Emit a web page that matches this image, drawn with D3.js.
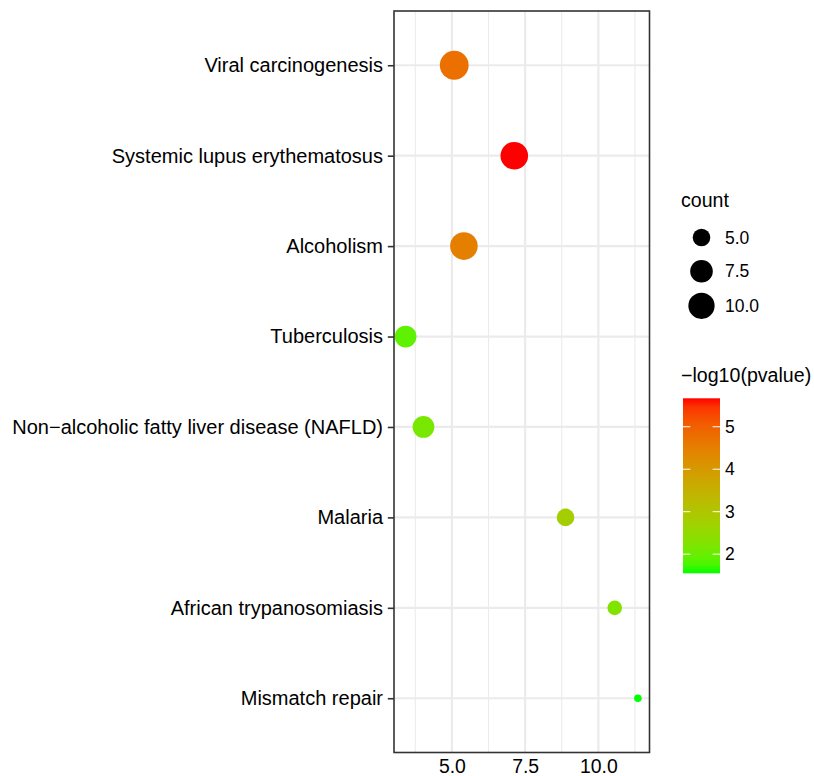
<!DOCTYPE html>
<html>
<head>
<meta charset="utf-8">
<script src="https://cdn.jsdelivr.net/npm/d3@7"></script>
<style>
  html, body { margin: 0; padding: 0; background: #fff; }
  svg { display: block; font-family: "Liberation Sans", Arial, Helvetica, sans-serif; }
</style>
</head>
<body>
<svg id="chart" width="814" height="776"></svg>
<script>
// ---- data ----
const categories = [
  "Viral carcinogenesis",
  "Systemic lupus erythematosus",
  "Alcoholism",
  "Tuberculosis",
  "Non\u2212alcoholic fatty liver disease (NAFLD)",
  "Malaria",
  "African trypanosomiasis",
  "Mismatch repair"
];
const xValues = [5.08, 7.13, 5.41, 3.42, 4.03, 8.88, 10.56, 11.35];
const counts = [12, 11, 11, 7, 7, 5, 4, 3];
const logP = [4.75, 5.67, 4.5, 1.9, 2.15, 2.8, 2.25, 1.55];
const xTicks = [5.0, 7.5, 10.0];
const xMinorTicks = [3.75, 6.25, 8.75, 11.25];
const sizeBreaks = [5.0, 7.5, 10.0];
const colorBreaks = [2, 3, 4, 5];

// ---- layout ----
const svg = d3.select("#chart");
const panel = { left: 394, right: 649.5, top: 11, bottom: 752.5 };
const sizeKeyY = [237.5, 271.3, 305.8];

const xMin = d3.min(xValues), xMax = d3.max(xValues);
const xPad = (xMax - xMin) * 0.05;
const x = d3.scaleLinear().domain([xMin - xPad, xMax + xPad]).range([panel.left, panel.right]);
const y = d3.scalePoint().domain(categories).range([panel.top, panel.bottom]).padding(0.6);

const cMin = d3.min(counts), cMax = d3.max(counts);
const rScale = d3.scaleSqrt().domain([0, cMax - cMin]).range([3.8, 14.4]).clamp(true);
const r = v => rScale(v - cMin);

const pMin = d3.min(logP), pMax = d3.max(logP);
const color = d3.scaleLinear().domain([pMin, pMax]).range(["#00ff00", "#ff0000"]).interpolate(d3.interpolateLab);

// ---- grid ----
const grid = svg.append("g");
grid.selectAll("line.minor").data(xMinorTicks).join("line")
  .attr("x1", d => x(d)).attr("x2", d => x(d))
  .attr("y1", panel.top).attr("y2", panel.bottom)
  .attr("stroke", "#ebebeb").attr("stroke-width", 1.1);
grid.selectAll("line.majx").data(xTicks).join("line")
  .attr("x1", d => x(d)).attr("x2", d => x(d))
  .attr("y1", panel.top).attr("y2", panel.bottom)
  .attr("stroke", "#ebebeb").attr("stroke-width", 2.2);
grid.selectAll("line.majy").data(categories).join("line")
  .attr("x1", panel.left).attr("x2", panel.right)
  .attr("y1", d => y(d)).attr("y2", d => y(d))
  .attr("stroke", "#ebebeb").attr("stroke-width", 2.2);

// ---- points ----
const data = categories.map((c, i) => ({ cat: c, x: xValues[i], count: counts[i], p: logP[i] }));
svg.append("g").selectAll("circle").data(data).join("circle")
  .attr("cx", d => x(d.x)).attr("cy", d => y(d.cat))
  .attr("r", d => r(d.count))
  .attr("fill", d => color(d.p));

// ---- panel border ----
svg.append("rect")
  .attr("x", panel.left).attr("y", panel.top)
  .attr("width", panel.right - panel.left).attr("height", panel.bottom - panel.top)
  .attr("fill", "none").attr("stroke", "#333333").attr("stroke-width", 1.6);

// ---- y axis ----
const yAxis = d3.axisLeft(y).tickSize(6.2).tickPadding(4.8);
const gy = svg.append("g").attr("transform", `translate(${panel.left},0)`).call(yAxis);
gy.select(".domain").remove();
gy.selectAll(".tick line").attr("stroke", "#333333").attr("stroke-width", 1.6);
gy.selectAll(".tick text").attr("fill", "#000").style("font-size", "20px");

// ---- x axis ----
const xAxis = d3.axisBottom(x).tickValues(xTicks).tickFormat(d3.format(".1f")).tickSize(0).tickPadding(7);
const gx = svg.append("g").attr("transform", `translate(0,${panel.bottom})`).call(xAxis);
gx.select(".domain").remove();
gx.selectAll(".tick text").attr("fill", "#000").style("font-size", "19.4px");

// ---- size legend ----
const lg = svg.append("g");
lg.append("text").attr("x", 681).attr("y", 206.5).text("count")
  .style("font-size", "19.6px").attr("fill", "#000");
const keys = sizeBreaks.map((b, i) => ({ b, yy: sizeKeyY[i] }));
lg.selectAll("circle").data(keys).join("circle")
  .attr("cx", 701.5).attr("cy", d => d.yy).attr("r", d => r(d.b)).attr("fill", "#000");
lg.selectAll("text.lab").data(keys).join("text").attr("class", "lab")
  .attr("x", 725).attr("y", d => d.yy).attr("dy", "0.35em")
  .text(d => d3.format(".1f")(d.b)).style("font-size", "17.5px").attr("fill", "#000");

// ---- colour legend ----
const cb = { x: 683, w: 37, top: 398.3, bottom: 573.3 };
lg.append("text").attr("x", 681).attr("y", 382).text("\u2212log10(pvalue)")
  .style("font-size", "19.6px").attr("fill", "#000");
const cy = d3.scaleLinear().domain([pMin, pMax]).range([cb.bottom, cb.top]);
const defs = svg.append("defs");
const grad = defs.append("linearGradient").attr("id", "cbar")
  .attr("x1", 0).attr("y1", 1).attr("x2", 0).attr("y2", 0);
d3.range(0, 1.0001, 0.05).forEach(t => {
  grad.append("stop").attr("offset", t).attr("stop-color", color(pMin + t * (pMax - pMin)));
});
lg.append("rect").attr("x", cb.x).attr("y", cb.top).attr("width", cb.w)
  .attr("height", cb.bottom - cb.top).attr("fill", "url(#cbar)");
colorBreaks.forEach(b => {
  const yy = cy(b);
  lg.append("line").attr("x1", cb.x).attr("x2", cb.x + 7.4).attr("y1", yy).attr("y2", yy)
    .attr("stroke", "#fff").attr("stroke-width", 1);
  lg.append("line").attr("x1", cb.x + cb.w - 7.4).attr("x2", cb.x + cb.w).attr("y1", yy).attr("y2", yy)
    .attr("stroke", "#fff").attr("stroke-width", 1);
  lg.append("text").attr("x", 725).attr("y", yy).attr("dy", "0.35em").text(b)
    .style("font-size", "17.5px").attr("fill", "#000");
});
</script>
</body>
</html>
